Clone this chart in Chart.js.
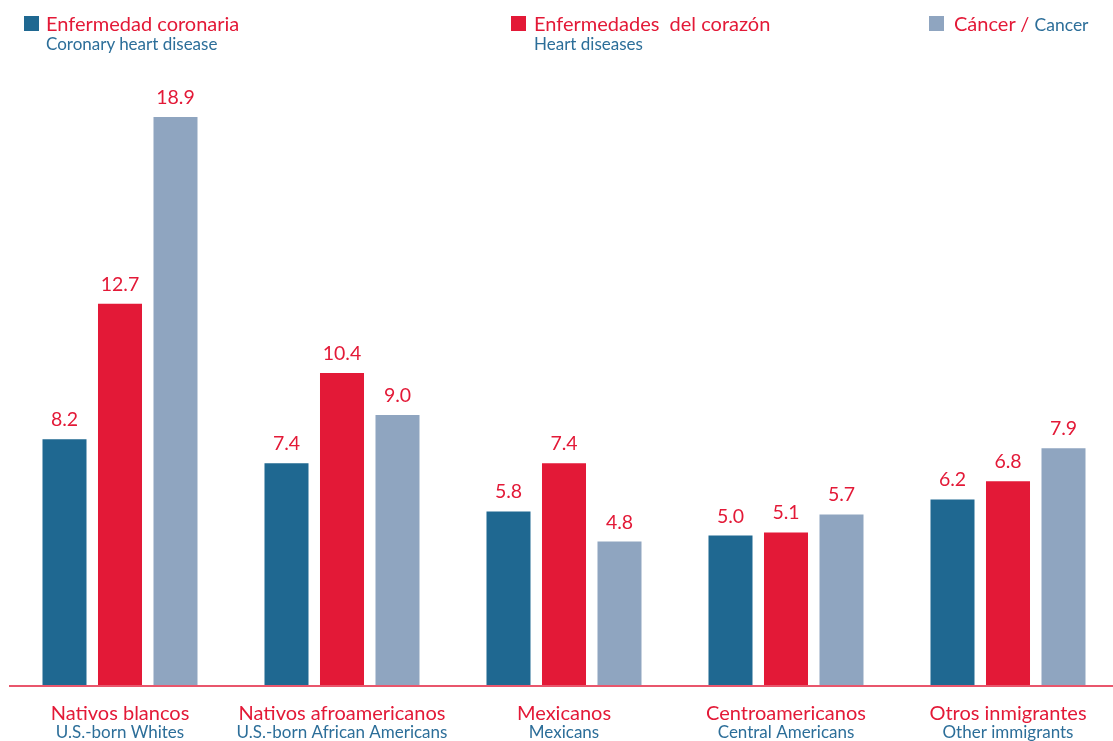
<!DOCTYPE html>
<html>
<head>
<meta charset="utf-8">
<script src="https://cdn.jsdelivr.net/npm/chart.js@4"></script>
<style>
  html, body { margin: 0; padding: 0; background: #fff; overflow: hidden; }
  body { width: 1113px; height: 741px; position: relative; font-family: Lato, sans-serif; }
  #wrap { position: absolute; left: 0; top: 0; width: 1120px; height: 741px; }
  .leg { position: absolute; top: 0; }
  .leg .sw { position: absolute; left: 0; top: 16px; width: 15px; height: 15px; }
  .leg .es { position: absolute; left: 22px; top: 11px; line-height: 24px; color: #e31937; font-size: 20px; white-space: nowrap; }
  .leg .en { position: absolute; left: 22px; top: 34px; line-height: 20px; color: #2c6e99; font-size: 17px; white-space: nowrap; }
</style>
</head>
<body>
<div id="wrap"><canvas id="grafica"></canvas></div>
<div class="leg" style="left:24px"><div class="sw" style="background:#1f6891"></div><div class="es">Enfermedad coronaria</div><div class="en">Coronary heart disease</div></div>
<div class="leg" style="left:511px"><div class="sw" style="background:#e31937"></div><div class="es" style="left:23px">Enfermedades&nbsp; del corazón</div><div class="en" style="left:23px">Heart diseases</div></div>
<div class="leg" style="left:929px"><div class="sw" style="background:#8fa5c0"></div><div class="es" style="left:25px">Cáncer / <span style="color:#2c6e99;font-size:17.5px">Cancer</span></div></div>
<script>
const categorias = ['Nativos blancos', 'Nativos afroamericanos', 'Mexicanos', 'Centroamericanos', 'Otros inmigrantes'];
const categoriasEn = ['U.S.-born Whites', 'U.S.-born African Americans', 'Mexicans', 'Central Americans', 'Other immigrants'];
const coronaria = [8.2, 7.4, 5.8, 5.0, 6.2];
const corazon = [12.7, 10.4, 7.4, 5.1, 6.8];
const cancer = [18.9, 9.0, 4.8, 5.7, 7.9];

const rojo = '#e31937';
const azulTexto = '#2c6e99';

const etiquetas = {
    id: 'etiquetas',
    afterDatasetsDraw(chart) {
        const ctx = chart.ctx;
        ctx.save();
        ctx.fillStyle = rojo;
        ctx.font = '19.5px Lato, sans-serif';
        ctx.textAlign = 'center';
        ctx.textBaseline = 'alphabetic';
        chart.data.datasets.forEach((ds, i) => {
            chart.getDatasetMeta(i).data.forEach((bar, j) => {
                ctx.fillText(ds.data[j].toFixed(1), bar.x, bar.y - 13);
            });
        });
        // eje
        const y = chart.chartArea.bottom;
        ctx.strokeStyle = '#e9566c';
        ctx.lineWidth = 2;
        ctx.beginPath();
        ctx.moveTo(9, y);
        ctx.lineTo(1113, y);
        ctx.stroke();
        // categorias
        const xs = chart.scales.x;
        categorias.forEach((c, i) => {
            const x = xs.getPixelForValue(i);
            ctx.fillStyle = rojo;
            ctx.font = '20px Lato, sans-serif';
            ctx.fillText(c, x, y + 34);
            ctx.fillStyle = azulTexto;
            ctx.font = '17px Lato, sans-serif';
            ctx.fillText(categoriasEn[i], x, y + 52);
        });
        ctx.restore();
    }
};

const grafica = new Chart(document.getElementById('grafica').getContext('2d'), {
    type: 'bar',
    data: {
        labels: categorias,
        datasets: [
            { label: 'Enfermedad coronaria', data: coronaria, backgroundColor: '#1f6891' },
            { label: 'Enfermedades del corazón', data: corazon, backgroundColor: rojo },
            { label: 'Cáncer', data: cancer, backgroundColor: '#8fa5c0' }
        ]
    },
    options: {
        responsive: true,
        maintainAspectRatio: false,
        animation: false,
        categoryPercentage: 0.75,
        barPercentage: 0.793,
        layout: { padding: { left: 9, right: 1, top: 84, bottom: 55 } },
        plugins: { legend: { display: false }, tooltip: { enabled: false } },
        scales: {
            x: {
                display: true,
                grid: { display: false },
                border: { display: false },
                ticks: { display: false },
                afterFit: (s) => { s.height = 0; }
            },
            y: {
                display: false,
                min: 0,
                max: 20
            }
        }
    },
    plugins: [etiquetas]
});
</script>
</body>
</html>
